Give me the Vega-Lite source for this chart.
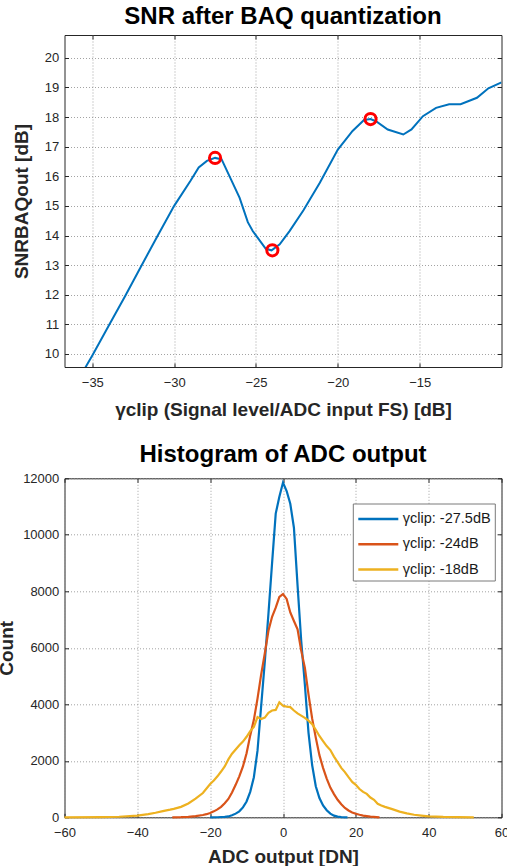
{
  "$schema": "https://vega.github.io/schema/vega-lite/v6.json",
  "padding": {"left": -3.5, "top": 4, "right": -2, "bottom": 0},
  "spacing": 111.3,
  "bounds": "flush",
  "config": {
    "font": "Liberation Sans",
    "view": {"stroke": "#262626", "strokeWidth": 1},
    "axis": {
      "gridColor": "#8c8c8c",
      "gridDash": [1, 2],
      "gridWidth": 1,
      "gridOpacity": 0.8,
      "domain": false,
      "tickColor": "#262626",
      "tickSize": -4,
      "labelOverlap": false,
      "labelFlush": false,
      "labelFont": "Liberation Sans",
      "labelFontSize": 13,
      "labelColor": "#262626",
      "titleFont": "Liberation Sans",
      "titleFontSize": 19,
      "titleFontWeight": "bold",
      "titleColor": "#262626"
    },
    "axisY": {"labelPadding": 9.7, "titleBaseline": "alphabetic"},
    "title": {"font": "Liberation Sans", "fontSize": 24, "fontWeight": "bold", "color": "#000000", "anchor": "middle", "baseline": "alphabetic", "offset": 5.5}
  },
  "datasets": {
    "snr": [
      {"g": -36.2, "snr": 8.8},
      {"g": -35.0, "snr": 9.95},
      {"g": -34.0, "snr": 10.95},
      {"g": -33.0, "snr": 11.95},
      {"g": -32.0, "snr": 12.98},
      {"g": -31.0, "snr": 14.0},
      {"g": -30.0, "snr": 15.0},
      {"g": -29.0, "snr": 15.85},
      {"g": -28.5, "snr": 16.3},
      {"g": -28.0, "snr": 16.52},
      {"g": -27.5, "snr": 16.62},
      {"g": -27.1, "snr": 16.57},
      {"g": -26.6, "snr": 15.98},
      {"g": -26.0, "snr": 15.27},
      {"g": -25.5, "snr": 14.45},
      {"g": -25.2, "snr": 14.15},
      {"g": -24.4, "snr": 13.55},
      {"g": -24.05, "snr": 13.5},
      {"g": -23.55, "snr": 13.7},
      {"g": -22.95, "snr": 14.15},
      {"g": -22.1, "snr": 14.85},
      {"g": -21.1, "snr": 15.78},
      {"g": -20.0, "snr": 16.9},
      {"g": -19.1, "snr": 17.53},
      {"g": -18.4, "snr": 17.9},
      {"g": -18.0, "snr": 17.93},
      {"g": -17.65, "snr": 17.85},
      {"g": -16.95, "snr": 17.58},
      {"g": -16.0, "snr": 17.41},
      {"g": -15.5, "snr": 17.58},
      {"g": -14.8, "snr": 18.03},
      {"g": -14.0, "snr": 18.31},
      {"g": -13.2, "snr": 18.43},
      {"g": -12.5, "snr": 18.43},
      {"g": -11.5, "snr": 18.65},
      {"g": -10.8, "snr": 18.97},
      {"g": -10.0, "snr": 19.17}
    ],
    "markers": [
      {"g": -27.5, "snr": 16.62},
      {"g": -24.0, "snr": 13.5},
      {"g": -18.0, "snr": 17.93}
    ],
    "hist": [
      {"s": "γclip: -27.5dB", "dn": -20, "count": 0},
      {"s": "γclip: -27.5dB", "dn": -18, "count": 2},
      {"s": "γclip: -27.5dB", "dn": -16, "count": 15},
      {"s": "γclip: -27.5dB", "dn": -15, "count": 30},
      {"s": "γclip: -27.5dB", "dn": -14, "count": 70},
      {"s": "γclip: -27.5dB", "dn": -13, "count": 130},
      {"s": "γclip: -27.5dB", "dn": -12, "count": 210},
      {"s": "γclip: -27.5dB", "dn": -11, "count": 350},
      {"s": "γclip: -27.5dB", "dn": -10, "count": 560},
      {"s": "γclip: -27.5dB", "dn": -9, "count": 900},
      {"s": "γclip: -27.5dB", "dn": -8, "count": 1420},
      {"s": "γclip: -27.5dB", "dn": -7, "count": 2360},
      {"s": "γclip: -27.5dB", "dn": -6, "count": 3930},
      {"s": "γclip: -27.5dB", "dn": -5, "count": 5500},
      {"s": "γclip: -27.5dB", "dn": -4, "count": 7200},
      {"s": "γclip: -27.5dB", "dn": -3, "count": 9000},
      {"s": "γclip: -27.5dB", "dn": -2, "count": 10750},
      {"s": "γclip: -27.5dB", "dn": -1, "count": 11350},
      {"s": "γclip: -27.5dB", "dn": 0, "count": 11850},
      {"s": "γclip: -27.5dB", "dn": 1, "count": 11550},
      {"s": "γclip: -27.5dB", "dn": 2, "count": 11100},
      {"s": "γclip: -27.5dB", "dn": 3, "count": 10250},
      {"s": "γclip: -27.5dB", "dn": 4, "count": 8200},
      {"s": "γclip: -27.5dB", "dn": 5, "count": 6250},
      {"s": "γclip: -27.5dB", "dn": 6, "count": 4700},
      {"s": "γclip: -27.5dB", "dn": 7, "count": 3000},
      {"s": "γclip: -27.5dB", "dn": 8, "count": 1850},
      {"s": "γclip: -27.5dB", "dn": 9, "count": 1100},
      {"s": "γclip: -27.5dB", "dn": 10, "count": 680},
      {"s": "γclip: -27.5dB", "dn": 11, "count": 420},
      {"s": "γclip: -27.5dB", "dn": 12, "count": 250},
      {"s": "γclip: -27.5dB", "dn": 13, "count": 130},
      {"s": "γclip: -27.5dB", "dn": 14, "count": 60},
      {"s": "γclip: -27.5dB", "dn": 15, "count": 25},
      {"s": "γclip: -27.5dB", "dn": 16, "count": 8},
      {"s": "γclip: -27.5dB", "dn": 17.7, "count": 0},
      {"s": "γclip: -24dB", "dn": -30.4, "count": 0},
      {"s": "γclip: -24dB", "dn": -28, "count": 5},
      {"s": "γclip: -24dB", "dn": -26, "count": 15},
      {"s": "γclip: -24dB", "dn": -24, "count": 40},
      {"s": "γclip: -24dB", "dn": -22, "count": 80},
      {"s": "γclip: -24dB", "dn": -21, "count": 110},
      {"s": "γclip: -24dB", "dn": -20, "count": 150},
      {"s": "γclip: -24dB", "dn": -19, "count": 210},
      {"s": "γclip: -24dB", "dn": -18, "count": 280},
      {"s": "γclip: -24dB", "dn": -17, "count": 370},
      {"s": "γclip: -24dB", "dn": -16, "count": 500},
      {"s": "γclip: -24dB", "dn": -15, "count": 650},
      {"s": "γclip: -24dB", "dn": -14, "count": 880},
      {"s": "γclip: -24dB", "dn": -13, "count": 1150},
      {"s": "γclip: -24dB", "dn": -12, "count": 1450},
      {"s": "γclip: -24dB", "dn": -11, "count": 1800},
      {"s": "γclip: -24dB", "dn": -10, "count": 2270},
      {"s": "γclip: -24dB", "dn": -9, "count": 2900},
      {"s": "γclip: -24dB", "dn": -8, "count": 3450},
      {"s": "γclip: -24dB", "dn": -7, "count": 4200},
      {"s": "γclip: -24dB", "dn": -6, "count": 5050},
      {"s": "γclip: -24dB", "dn": -5, "count": 5800},
      {"s": "γclip: -24dB", "dn": -4, "count": 6600},
      {"s": "γclip: -24dB", "dn": -3, "count": 7100},
      {"s": "γclip: -24dB", "dn": -2, "count": 7420},
      {"s": "γclip: -24dB", "dn": -1, "count": 7800},
      {"s": "γclip: -24dB", "dn": 0, "count": 7900},
      {"s": "γclip: -24dB", "dn": 1, "count": 7730},
      {"s": "γclip: -24dB", "dn": 2, "count": 7250},
      {"s": "γclip: -24dB", "dn": 3, "count": 6950},
      {"s": "γclip: -24dB", "dn": 4, "count": 6650},
      {"s": "γclip: -24dB", "dn": 5, "count": 5900},
      {"s": "γclip: -24dB", "dn": 6, "count": 5300},
      {"s": "γclip: -24dB", "dn": 7, "count": 4350},
      {"s": "γclip: -24dB", "dn": 8, "count": 3500},
      {"s": "γclip: -24dB", "dn": 9, "count": 2820},
      {"s": "γclip: -24dB", "dn": 10, "count": 2200},
      {"s": "γclip: -24dB", "dn": 11, "count": 1750},
      {"s": "γclip: -24dB", "dn": 12, "count": 1370},
      {"s": "γclip: -24dB", "dn": 13, "count": 1050},
      {"s": "γclip: -24dB", "dn": 14, "count": 820},
      {"s": "γclip: -24dB", "dn": 15, "count": 620},
      {"s": "γclip: -24dB", "dn": 16, "count": 460},
      {"s": "γclip: -24dB", "dn": 17, "count": 330},
      {"s": "γclip: -24dB", "dn": 18, "count": 240},
      {"s": "γclip: -24dB", "dn": 19, "count": 170},
      {"s": "γclip: -24dB", "dn": 20, "count": 125},
      {"s": "γclip: -24dB", "dn": 21, "count": 90},
      {"s": "γclip: -24dB", "dn": 22, "count": 60},
      {"s": "γclip: -24dB", "dn": 24, "count": 25},
      {"s": "γclip: -24dB", "dn": 26.5, "count": 0},
      {"s": "γclip: -18dB", "dn": -60, "count": 0},
      {"s": "γclip: -18dB", "dn": -50, "count": 5},
      {"s": "γclip: -18dB", "dn": -45, "count": 20},
      {"s": "γclip: -18dB", "dn": -40, "count": 60},
      {"s": "γclip: -18dB", "dn": -37, "count": 110},
      {"s": "γclip: -18dB", "dn": -35, "count": 160},
      {"s": "γclip: -18dB", "dn": -33, "count": 220},
      {"s": "γclip: -18dB", "dn": -31, "count": 270},
      {"s": "γclip: -18dB", "dn": -30, "count": 300},
      {"s": "γclip: -18dB", "dn": -28, "count": 370},
      {"s": "γclip: -18dB", "dn": -26, "count": 490},
      {"s": "γclip: -18dB", "dn": -24, "count": 660},
      {"s": "γclip: -18dB", "dn": -22, "count": 860},
      {"s": "γclip: -18dB", "dn": -20, "count": 1180},
      {"s": "γclip: -18dB", "dn": -19, "count": 1300},
      {"s": "γclip: -18dB", "dn": -18, "count": 1450},
      {"s": "γclip: -18dB", "dn": -17, "count": 1620},
      {"s": "γclip: -18dB", "dn": -16, "count": 1800},
      {"s": "γclip: -18dB", "dn": -15, "count": 2050},
      {"s": "γclip: -18dB", "dn": -14, "count": 2250},
      {"s": "γclip: -18dB", "dn": -13, "count": 2400},
      {"s": "γclip: -18dB", "dn": -12, "count": 2550},
      {"s": "γclip: -18dB", "dn": -11, "count": 2680},
      {"s": "γclip: -18dB", "dn": -10, "count": 2850},
      {"s": "γclip: -18dB", "dn": -9, "count": 3050},
      {"s": "γclip: -18dB", "dn": -8, "count": 3200},
      {"s": "γclip: -18dB", "dn": -7, "count": 3550},
      {"s": "γclip: -18dB", "dn": -6, "count": 3480},
      {"s": "γclip: -18dB", "dn": -5, "count": 3530},
      {"s": "γclip: -18dB", "dn": -4, "count": 3700},
      {"s": "γclip: -18dB", "dn": -3, "count": 3780},
      {"s": "γclip: -18dB", "dn": -2, "count": 3800},
      {"s": "γclip: -18dB", "dn": -1, "count": 4070},
      {"s": "γclip: -18dB", "dn": 0, "count": 3950},
      {"s": "γclip: -18dB", "dn": 1, "count": 3920},
      {"s": "γclip: -18dB", "dn": 2, "count": 3900},
      {"s": "γclip: -18dB", "dn": 3, "count": 3780},
      {"s": "γclip: -18dB", "dn": 4, "count": 3680},
      {"s": "γclip: -18dB", "dn": 5, "count": 3600},
      {"s": "γclip: -18dB", "dn": 6, "count": 3520},
      {"s": "γclip: -18dB", "dn": 7, "count": 3420},
      {"s": "γclip: -18dB", "dn": 8, "count": 3300},
      {"s": "γclip: -18dB", "dn": 9, "count": 3100},
      {"s": "γclip: -18dB", "dn": 10, "count": 2880},
      {"s": "γclip: -18dB", "dn": 11, "count": 2700},
      {"s": "γclip: -18dB", "dn": 12, "count": 2520},
      {"s": "γclip: -18dB", "dn": 13, "count": 2380},
      {"s": "γclip: -18dB", "dn": 14, "count": 2150},
      {"s": "γclip: -18dB", "dn": 15, "count": 1950},
      {"s": "γclip: -18dB", "dn": 16, "count": 1750},
      {"s": "γclip: -18dB", "dn": 17, "count": 1600},
      {"s": "γclip: -18dB", "dn": 18, "count": 1420},
      {"s": "γclip: -18dB", "dn": 19, "count": 1250},
      {"s": "γclip: -18dB", "dn": 20, "count": 1150},
      {"s": "γclip: -18dB", "dn": 21, "count": 1000},
      {"s": "γclip: -18dB", "dn": 22, "count": 900},
      {"s": "γclip: -18dB", "dn": 23, "count": 830},
      {"s": "γclip: -18dB", "dn": 24, "count": 700},
      {"s": "γclip: -18dB", "dn": 25, "count": 620},
      {"s": "γclip: -18dB", "dn": 26, "count": 480},
      {"s": "γclip: -18dB", "dn": 27, "count": 420},
      {"s": "γclip: -18dB", "dn": 28, "count": 370},
      {"s": "γclip: -18dB", "dn": 30, "count": 290},
      {"s": "γclip: -18dB", "dn": 32, "count": 200},
      {"s": "γclip: -18dB", "dn": 34, "count": 140},
      {"s": "γclip: -18dB", "dn": 36, "count": 90},
      {"s": "γclip: -18dB", "dn": 38, "count": 60},
      {"s": "γclip: -18dB", "dn": 40, "count": 35},
      {"s": "γclip: -18dB", "dn": 44, "count": 12},
      {"s": "γclip: -18dB", "dn": 48, "count": 5},
      {"s": "γclip: -18dB", "dn": 52.4, "count": 0}
    ]
  },
  "vconcat": [
    {
      "title": {"text": "SNR after BAQ quantization"},
      "width": 437,
      "height": 332,
      "resolve": {"axis": {"x": "independent", "y": "independent"}},
      "layer": [
        {
          "encoding": {
            "x": {"field": "g", "type": "quantitative",
                  "scale": {"domain": [-36.7, -10], "nice": false, "zero": false},
                  "axis": {"values": [-35, -30, -25, -20, -15], "labelOverlap": false, "title": "γclip (Signal level/ADC input FS) [dB]", "labelPadding": 13.7, "titlePadding": 10.5}},
            "y": {"field": "snr", "type": "quantitative",
                  "scale": {"domain": [9.56, 20.77], "nice": false, "zero": false},
                  "axis": {"values": [10, 11, 12, 13, 14, 15, 16, 17, 18, 19, 20], "labelOverlap": false, "title": "SNRBAQout [dB]", "titleX": -36.7}}
          },
          "layer": [
            {
              "data": {"name": "snr"},
              "mark": {"type": "line", "color": "#0072BD", "strokeWidth": 2, "clip": true}
            },
            {
              "data": {"name": "markers"},
              "mark": {"type": "point", "shape": "circle", "filled": false, "color": "#FF0000", "strokeWidth": 3, "size": 125, "opacity": 1}
            }
          ]
        },
        {
          "data": {"name": "markers"},
          "mark": {"type": "point", "opacity": 0},
          "encoding": {
            "x": {"field": "g", "type": "quantitative",
                  "axis": {"orient": "top", "values": [-35, -30, -25, -20, -15], "labels": false, "grid": false, "title": null}},
            "y": {"field": "snr", "type": "quantitative",
                  "axis": {"orient": "right", "values": [10, 11, 12, 13, 14, 15, 16, 17, 18, 19, 20], "labels": false, "grid": false, "title": null}}
          }
        }
      ]
    },
    {
      "title": {"text": "Histogram of ADC output"},
      "width": 437,
      "height": 339,
      "data": {"name": "hist"},
      "resolve": {"axis": {"x": "independent", "y": "independent"}},
      "layer": [
        {
          "mark": {"type": "line", "strokeWidth": 2.2},
          "encoding": {
            "x": {"field": "dn", "type": "quantitative",
                  "scale": {"domain": [-60, 60], "nice": false},
                  "axis": {"values": [-60, -40, -20, 0, 20, 40, 60], "labelOverlap": false, "labelFlush": false, "title": "ADC output [DN]", "labelPadding": 13, "titlePadding": 8.3}},
            "y": {"field": "count", "type": "quantitative",
                  "scale": {"domain": [0, 12000], "nice": false},
                  "axis": {"values": [0, 2000, 4000, 6000, 8000, 10000, 12000], "labelOverlap": false, "format": "d", "title": "Count", "titleX": -52.3}},
            "color": {"field": "s", "type": "nominal",
                      "scale": {"domain": ["γclip: -27.5dB", "γclip: -24dB", "γclip: -18dB"], "range": ["#0072BD", "#D95319", "#EDB120"]},
                      "legend": {"title": null, "orient": "none", "legendX": 288.3, "legendY": 468.5,
                                 "symbolType": "M-1,0H3", "symbolSize": 400, "symbolStrokeWidth": 2.5, "symbolFillColor": "transparent",
                                 "labelFontSize": 14.5, "labelColor": "#1a1a1a", "labelFont": "Liberation Sans", "labelOffset": 23,
                                 "strokeColor": "#7a7a7a", "fillColor": "#ffffff", "padding": 4, "rowPadding": 7.3}},
            "detail": {"field": "s"}
          }
        },
        {
          "mark": {"type": "point", "opacity": 0},
          "encoding": {
            "x": {"field": "dn", "type": "quantitative",
                  "axis": {"orient": "top", "values": [-60, -40, -20, 0, 20, 40, 60], "labels": false, "grid": false, "title": null}},
            "y": {"field": "count", "type": "quantitative",
                  "axis": {"orient": "right", "values": [0, 2000, 4000, 6000, 8000, 10000, 12000], "labels": false, "grid": false, "title": null}}
          }
        }
      ]
    }
  ]
}
